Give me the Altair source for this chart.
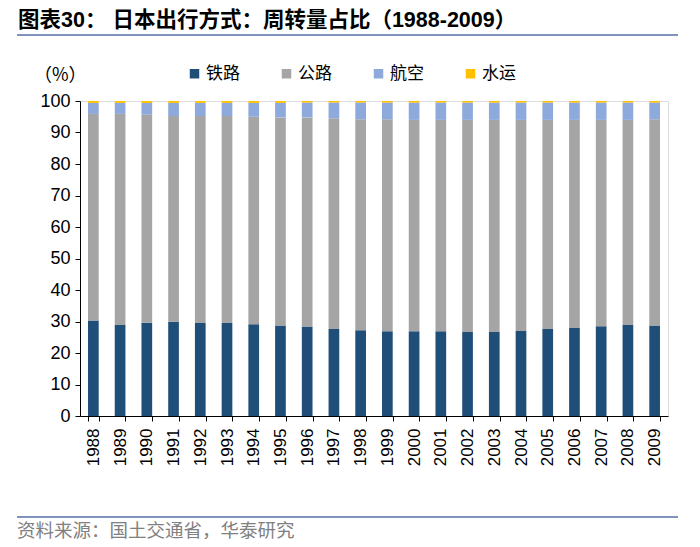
import altair as alt
import pandas as pd

years = [str(y) for y in range(1988, 2010)]
rail = [30.3, 28.9, 29.6, 29.9, 29.5, 29.5, 29.1, 28.7, 28.4, 27.6, 27.2,
        26.9, 26.9, 26.9, 26.7, 26.7, 27.0, 27.6, 27.9, 28.5, 28.9, 28.7]
road = [65.6, 67.0, 66.0, 65.3, 65.7, 65.7, 65.9, 66.1, 66.4, 66.9, 67.0,
        67.3, 67.1, 67.1, 67.3, 67.3, 67.0, 66.4, 66.1, 65.5, 65.1, 65.5]
air = [3.5, 3.5, 3.8, 4.2, 4.2, 4.2, 4.4, 4.6, 4.7, 5.0, 5.3,
       5.3, 5.5, 5.5, 5.5, 5.5, 5.5, 5.5, 5.5, 5.5, 5.5, 5.3]
water = [0.6, 0.6, 0.6, 0.6, 0.6, 0.6, 0.6, 0.6, 0.5, 0.5, 0.5,
         0.5, 0.5, 0.5, 0.5, 0.5, 0.5, 0.5, 0.5, 0.5, 0.5, 0.5]
series = ["铁路", "公路", "航空", "水运"]
colors = ["#1F4E79", "#A5A5A5", "#8EA9DB", "#FFC000"]
y_ticks = list(range(0, 101, 10))

title_text = "图表30：  日本出行方式：周转量占比（1988-2009）"
source_text = "资料来源：国土交通省，华泰研究"
unit_text = "（%）"

rows = []
for i, y in enumerate(years):
    for k, (name, vals) in enumerate(zip(series, [rail, road, air, water])):
        rows.append({"year": y, "mode": name, "value": vals[i], "order": k})
df = pd.DataFrame(rows)

FONT = "Liberation Sans, Noto Sans CJK SC, sans-serif"
CJK = "Noto Sans CJK SC, sans-serif"

bars = alt.Chart(df).mark_bar().encode(
    x=alt.X("year:N", title=None, sort=years,
            scale=alt.Scale(paddingInner=0.6, paddingOuter=0.3),
            axis=alt.Axis(labelAngle=270, labelFontSize=17, labelFont=FONT,
                          labelColor="#000000", tickBand="extent", tickSize=5,
                          tickColor="#000000", domainColor="#000000",
                          labelPadding=7, labelBaseline="middle", labelAlign="right")),
    y=alt.Y("value:Q", title=None, stack="zero",
            scale=alt.Scale(domain=[0, 100], nice=False),
            axis=alt.Axis(values=y_ticks, labelFontSize=18, labelFont=FONT,
                          labelColor="#000000", tickSize=5, tickColor="#000000",
                          domainColor="#000000", grid=False, labelPadding=5)),
    color=alt.Color("mode:N", sort=series,
                    scale=alt.Scale(domain=series, range=colors),
                    legend=alt.Legend(title=None, orient="none", legendX=106, legendY=-36,
                                      direction="horizontal", columns=4, columnPadding=38,
                                      symbolType="square", symbolSize=90,
                                      symbolStrokeWidth=0, labelFont=CJK,
                                      labelFontSize=17, labelColor="#000000",
                                      labelOffset=3)),
    order=alt.Order("order:Q", sort="ascending"),
)

title = alt.Chart(pd.DataFrame({"t": [title_text]})).mark_text(
    align="left", baseline="middle", fontSize=21.5, fontWeight="bold", font=FONT, color="#000000"
).encode(x=alt.value(-62), y=alt.value(-80), text="t:N")

title_line = alt.Chart(pd.DataFrame({"a": [0]})).mark_rule(
    color="#7F93BE", strokeWidth=2
).encode(x=alt.value(-63), x2=alt.value(598), y=alt.value(-66))

unit = alt.Chart(pd.DataFrame({"t": [unit_text]})).mark_text(
    align="left", baseline="middle", fontSize=18, font=CJK, color="#000000"
).encode(x=alt.value(-46), y=alt.value(-25), text="t:N")

bottom_line = alt.Chart(pd.DataFrame({"a": [0]})).mark_rule(
    color="#7F93BE", strokeWidth=2
).encode(x=alt.value(-63), x2=alt.value(598), y=alt.value(416))

source = alt.Chart(pd.DataFrame({"t": [source_text]})).mark_text(
    align="left", baseline="middle", fontSize=18.5, font=CJK, color="#808080"
).encode(x=alt.value(-63), y=alt.value(430), text="t:N")

chart = alt.layer(bars, title, title_line, unit, bottom_line, source).properties(
    width=588, height=315,
    autosize=alt.AutoSizeParams(type="none"),
    padding={"left": 72, "top": 93, "right": 24, "bottom": 125},
).configure_view(stroke=None).configure(background="white")

chart.save("out.html", embed_options={"renderer": "svg", "actions": False})
